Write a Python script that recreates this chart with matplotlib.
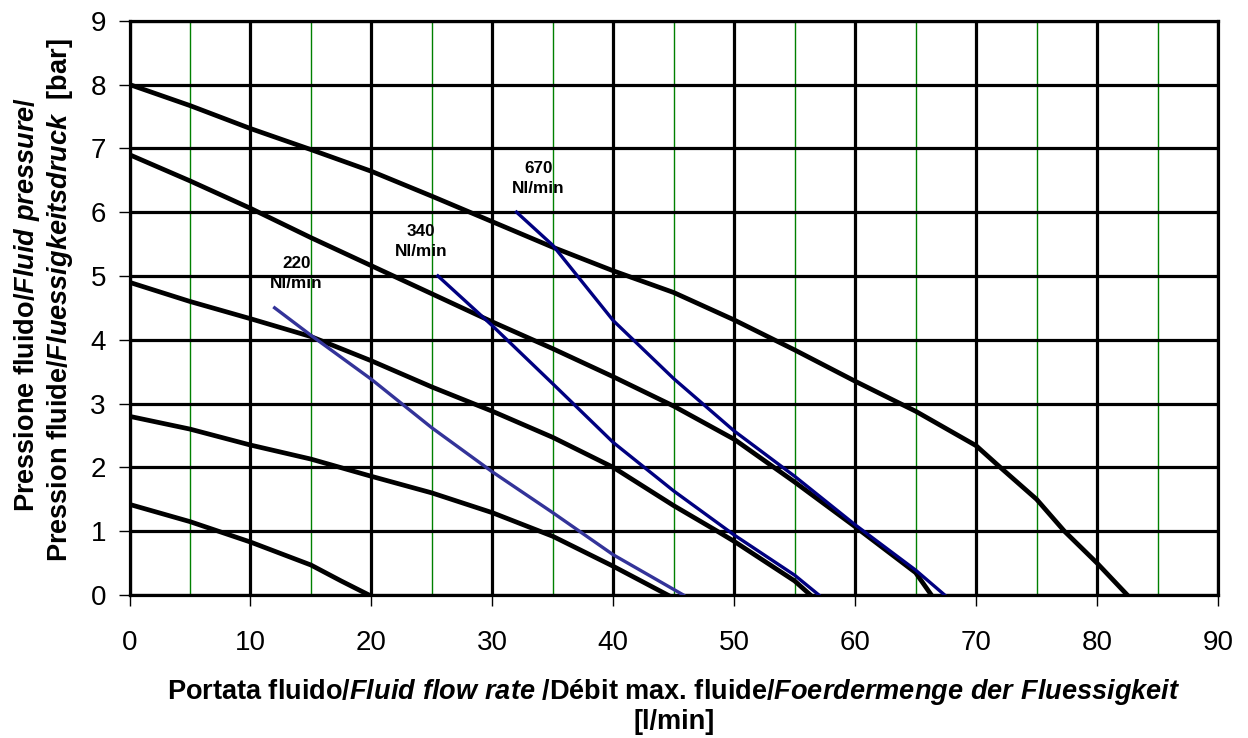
import numpy as np
import matplotlib
matplotlib.use("Agg")
import matplotlib.pyplot as plt

## Pump curves, fluid pressure [bar] vs fluid flow rate [l/min]
## black curves = air supply pressure (8, 6.9, 4.9, 2.8, 1.4 bar)
c1_x = [0, 5, 10, 15, 20, 25, 30, 35, 40, 45, 50, 53.3, 55, 60, 65, 70, 72, 75, 77.3, 80, 82.5]
c1_y = [8.0, 7.67, 7.31, 6.98, 6.64, 6.25, 5.85, 5.45, 5.08, 4.74, 4.31, 4.0, 3.84, 3.35, 2.88, 2.34, 2.0, 1.5, 1.0, 0.5, 0.0]

c2_x = [0, 5, 10, 15, 20, 25, 30, 35, 40, 45, 50, 55, 60, 65, 66.3]
c2_y = [6.9, 6.49, 6.06, 5.6, 5.16, 4.72, 4.28, 3.86, 3.42, 2.96, 2.44, 1.77, 1.07, 0.35, 0.0]

c3_x = [0, 5, 10, 15, 20, 25, 30, 35, 40, 45, 48.6, 50, 55, 56.3]
c3_y = [4.9, 4.6, 4.33, 4.05, 3.67, 3.26, 2.88, 2.47, 2.0, 1.4, 1.0, 0.84, 0.22, 0.0]

c4_x = [0, 5, 10, 15, 20, 25, 30, 35, 40, 44.5]
c4_y = [2.8, 2.6, 2.35, 2.13, 1.86, 1.6, 1.29, 0.92, 0.45, 0.0]

c5_x = [0, 5, 10, 15, 17.5, 19.8]
c5_y = [1.42, 1.15, 0.83, 0.47, 0.22, 0.0]

## air consumption lines
a220_x = [12, 15, 20, 25, 30, 35, 40, 45.8]
a220_y = [4.5, 4.07, 3.38, 2.62, 1.93, 1.29, 0.63, 0.0]

a340_x = [25.5, 30, 35, 40, 45, 50, 55, 57]
a340_y = [5.0, 4.22, 3.31, 2.39, 1.63, 0.94, 0.31, 0.0]

a670_x = [32, 35, 40, 45, 50, 55, 60, 65, 67.4]
a670_y = [6.0, 5.48, 4.3, 3.39, 2.57, 1.86, 1.1, 0.39, 0.0]

air_labels = ['220\nNl/min', '340\nNl/min', '670\nNl/min']
air_label_x = [13.8, 24.1, 33.8]
air_label_y = [5.04, 5.54, 6.53]

x_ticks = list(range(0, 91, 10))
y_ticks = list(range(0, 10))
minor_x = list(range(5, 90, 10))

plt.rcParams['font.family'] = ['Liberation Sans', 'DejaVu Sans']
plt.rcParams['mathtext.fontset'] = 'custom'
plt.rcParams['mathtext.rm'] = 'Liberation Sans:bold'
plt.rcParams['mathtext.it'] = 'Liberation Sans:bold:italic'
plt.rcParams['mathtext.bf'] = 'Liberation Sans:bold'

W, H = 1248, 738
fig = plt.figure(figsize=(W / 100, H / 100), dpi=100)
ax = fig.add_axes([129.5 / W, 1 - 595 / H, (1218 - 129.5) / W, (595 - 20.7) / H])

## grid: green at the 5s, black at the major ticks
for gx in minor_x:
    ax.axvline(gx, color='#008000', lw=1.0, zorder=1)
for gx in x_ticks:
    ax.axvline(gx, color='black', lw=2.3, zorder=1.2)
for gy in y_ticks:
    ax.axhline(gy, color='black', lw=2.3, zorder=1.2)

for xs, ys in [(c1_x, c1_y), (c2_x, c2_y), (c3_x, c3_y), (c4_x, c4_y), (c5_x, c5_y)]:
    ax.plot(xs, ys, color='black', lw=3.4, solid_joinstyle='round', zorder=3)

ax.plot(a220_x, a220_y, color='#333399', lw=2.4, zorder=4)
ax.plot(a340_x, a340_y, color='#000080', lw=2.4, zorder=4)
ax.plot(a670_x, a670_y, color='#000080', lw=2.4, zorder=4)

for t, tx, ty in zip(air_labels, air_label_x, air_label_y):
    ax.text(tx, ty, t, ha='center', va='center', fontsize=12.3, fontweight='bold',
            linespacing=1.45, zorder=5)

ax.set_xlim(0, 90)
ax.set_ylim(0, 9)
ax.set_xticks(x_ticks)
ax.set_yticks(y_ticks)
ax.tick_params(axis='x', direction='out', length=8, width=1, labelsize=20, pad=17)
ax.tick_params(axis='y', direction='out', length=8, width=1, labelsize=20, pad=9)
for s in ax.spines.values():
    s.set_linewidth(2.3)

## axis titles (mixed bold / bold italic), placed by baseline
fs = 19.5
fig.text(674 / W, 1 - 699 / H,
         r'Portata fluido/$\mathit{Fluid\ flow\ rate}$ /Débit max. fluide/$\mathit{Foerdermenge\ der\ Fluessigkeit}$',
         ha='center', va='baseline', fontsize=fs, fontweight='bold')
fig.text(674 / W, 1 - 729 / H, '[l/min]', ha='center', va='baseline', fontsize=fs, fontweight='bold')
fig.text(34 / W, 1 - 304 / H, r'Pressione fluido/$\mathit{Fluid\ pressure}$/',
         ha='center', va='baseline', rotation=90, rotation_mode='anchor', fontsize=fs, fontweight='bold')
fig.text(67 / W, 1 - 300 / H, r'Pression fluide/$\mathit{Fluessigkeitsdruck}$  [bar]',
         ha='center', va='baseline', rotation=90, rotation_mode='anchor', fontsize=fs, fontweight='bold')

fig.savefig('out.png', dpi=100)
